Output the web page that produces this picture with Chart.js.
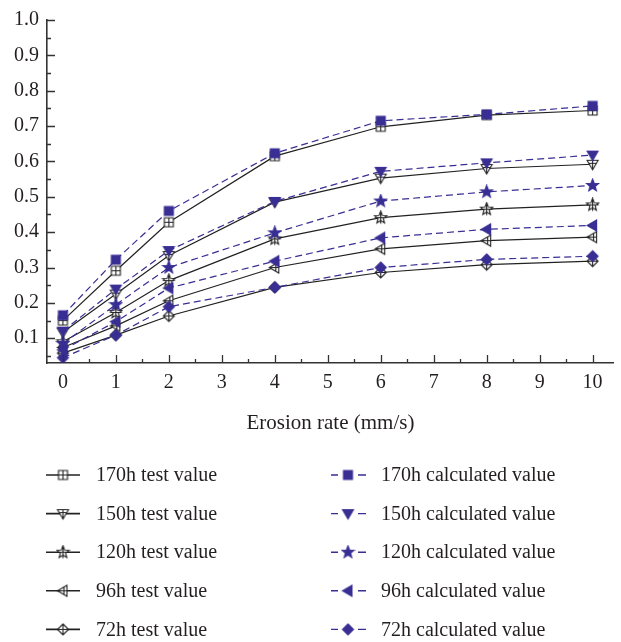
<!DOCTYPE html>
<html>
<head>
<meta charset="utf-8">
<script src="https://cdn.jsdelivr.net/npm/chart.js@4"></script>
<style>
  html, body { margin: 0; padding: 0; background: #fff; }
  #wrap { width: 621px; height: 642px; }
</style>
</head>
<body>
<div id="wrap"><canvas id="erosionChart" width="621" height="642"></canvas></div>
<script>
const erosionRate = [0, 1, 2, 4, 6, 8, 10];
const xTicks = [0, 1, 2, 3, 4, 5, 6, 7, 8, 9, 10];
const yTicks = [0.1, 0.2, 0.3, 0.4, 0.5, 0.6, 0.7, 0.8, 0.9, 1.0];

const test170 = [0.150, 0.291, 0.428, 0.615, 0.698, 0.731, 0.744];
const calc170 = [0.165, 0.322, 0.460, 0.623, 0.715, 0.733, 0.757];
const test150 = [0.117, 0.225, 0.334, 0.485, 0.553, 0.580, 0.592];
const calc150 = [0.120, 0.239, 0.348, 0.487, 0.572, 0.596, 0.618];
const test120 = [0.090, 0.173, 0.263, 0.381, 0.441, 0.465, 0.477];
const calc120 = [0.085, 0.195, 0.300, 0.398, 0.488, 0.514, 0.532];
const test96 = [0.074, 0.135, 0.206, 0.300, 0.353, 0.376, 0.386];
const calc96 = [0.067, 0.147, 0.242, 0.318, 0.384, 0.408, 0.419];
const test72 = [0.058, 0.109, 0.163, 0.244, 0.286, 0.308, 0.318];
const calc72 = [0.045, 0.109, 0.189, 0.244, 0.300, 0.323, 0.332];

const BLUE = '#382e93';
const BLACK = '#222222';
const FONT = '"Liberation Serif", "DejaVu Serif", serif';

// little canvases used as point styles
function makeMarker(shape, filled, color) {
    const c = document.createElement('canvas');
    c.width = 15; c.height = 15;
    const g = c.getContext('2d');
    g.translate(7.5, 7.5);
    g.strokeStyle = color;
    g.fillStyle = filled ? color : '#fff';
    g.lineWidth = 1.1;
    g.beginPath();
    if (shape === 'square') {
        g.rect(-4.5, -4.5, 9, 9);
    } else if (shape === 'down') {
        g.moveTo(-5.5, -4); g.lineTo(5.5, -4); g.lineTo(0, 5.5); g.closePath();
    } else if (shape === 'left') {
        g.moveTo(4, -5.5); g.lineTo(4, 5.5); g.lineTo(-5.5, 0); g.closePath();
    } else if (shape === 'diamond') {
        g.moveTo(0, -5.5); g.lineTo(5.5, 0); g.lineTo(0, 5.5); g.lineTo(-5.5, 0); g.closePath();
    } else if (shape === 'star') {
        for (let i = 0; i < 10; i++) {
            const r = i % 2 === 0 ? 6.5 : 2.8;
            const a = -Math.PI / 2 + i * Math.PI / 5;
            if (i === 0) g.moveTo(r * Math.cos(a), r * Math.sin(a));
            else g.lineTo(r * Math.cos(a), r * Math.sin(a));
        }
        g.closePath();
    }
    g.fill();
    g.stroke();
    if (!filled) {
        // cross inside the open test markers
        g.beginPath();
        if (shape === 'square') {
            g.moveTo(-4.5, 0); g.lineTo(4.5, 0); g.moveTo(0, -4.5); g.lineTo(0, 4.5);
        } else if (shape === 'down') {
            g.moveTo(-3.5, -1); g.lineTo(3.5, -1); g.moveTo(0, -4); g.lineTo(0, 5.5);
        } else if (shape === 'left') {
            g.moveTo(-5.5, 0); g.lineTo(4, 0); g.moveTo(1, -3.5); g.lineTo(1, 3.5);
        } else if (shape === 'diamond') {
            g.moveTo(-5.5, 0); g.lineTo(5.5, 0); g.moveTo(0, -5.5); g.lineTo(0, 5.5);
        } else if (shape === 'star') {
            g.moveTo(-6, 0); g.lineTo(6, 0); g.moveTo(0, -6.5); g.lineTo(0, 6);
        }
        g.stroke();
    }
    return c;
}

function pts(values) {
    return erosionRate.map((x, i) => ({ x: x, y: values[i] }));
}

function testSet(label, values, shape) {
    return {
        label: label, data: pts(values), order: 1,
        borderColor: BLACK, backgroundColor: BLACK, borderWidth: 1.2,
        pointStyle: makeMarker(shape, false, BLACK), pointRadius: 6, pointHoverRadius: 6,
        tension: 0, kind: 'test'
    };
}

function calcSet(label, values, shape) {
    return {
        label: label, data: pts(values), order: 0,
        borderColor: BLUE, backgroundColor: BLUE, borderWidth: 1.2, borderDash: [7, 4],
        pointStyle: makeMarker(shape, true, BLUE), pointRadius: 6, pointHoverRadius: 6,
        tension: 0, kind: 'calc'
    };
}

const datasets = [
    testSet('170h test value', test170, 'square'),
    testSet('150h test value', test150, 'down'),
    testSet('120h test value', test120, 'star'),
    testSet('96h test value', test96, 'left'),
    testSet('72h test value', test72, 'diamond'),
    calcSet('170h calculated value', calc170, 'square'),
    calcSet('150h calculated value', calc150, 'down'),
    calcSet('120h calculated value', calc120, 'star'),
    calcSet('96h calculated value', calc96, 'left'),
    calcSet('72h calculated value', calc72, 'diamond')
];

// ticks pointing into the plot, as in the original figure
const innerTicks = {
    id: 'innerTicks',
    afterDatasetsDraw(chart) {
        const g = chart.ctx;
        const xs = chart.scales.x, ys = chart.scales.y;
        const area = chart.chartArea;
        g.save();
        g.strokeStyle = '#333';
        g.lineWidth = 1.3;
        g.beginPath();
        for (let v = 0; v <= 10.001; v += 0.5) {
            const px = Math.round(xs.getPixelForValue(v)) + 0.5;
            const len = Math.abs(v - Math.round(v)) < 0.01 ? 8 : 4;
            g.moveTo(px, area.bottom); g.lineTo(px, area.bottom - len);
        }
        for (let v = 0.05; v <= 1.001; v += 0.05) {
            const py = Math.round(ys.getPixelForValue(v)) + 0.5;
            const major = Math.abs(v * 10 - Math.round(v * 10)) < 0.01;
            g.moveTo(area.left, py); g.lineTo(area.left + (major ? 8 : 4), py);
        }
        g.stroke();
        g.restore();
    }
};

// two-column legend under the axis title
const twoColLegend = {
    id: 'twoColLegend',
    afterDraw(chart) {
        const g = chart.ctx;
        g.save();
        g.font = '20px ' + FONT;
        g.fillStyle = '#231f20';
        g.textBaseline = 'middle';
        const sets = chart.data.datasets;
        const tests = sets.filter(d => d.kind === 'test');
        const calcs = sets.filter(d => d.kind === 'calc');
        const top = 475, step = 38.6;
        tests.forEach((d, i) => {
            const y = top + i * step;
            g.strokeStyle = d.borderColor; g.lineWidth = 1.6; g.setLineDash([]);
            g.beginPath(); g.moveTo(46, y); g.lineTo(80, y); g.stroke();
            g.drawImage(d.pointStyle, 63 - 7.5, y - 7.5);
            g.fillText(d.label, 96, y + 1);
        });
        calcs.forEach((d, i) => {
            const y = top + i * step;
            g.strokeStyle = d.borderColor; g.lineWidth = 1.4; g.setLineDash([]);
            g.beginPath(); g.moveTo(331, y); g.lineTo(338, y); g.moveTo(358, y); g.lineTo(366, y); g.stroke();
            g.drawImage(d.pointStyle, 348 - 7.5, y - 7.5);
            g.fillText(d.label, 381, y + 1);
        });
        g.restore();
    }
};

new Chart(document.getElementById('erosionChart').getContext('2d'), {
    type: 'line',
    data: { datasets: datasets },
    plugins: [innerTicks, twoColLegend],
    options: {
        responsive: false,
        animation: false,
        events: [],
        layout: { padding: { top: 20, right: 0, left: 0, bottom: 204 } },
        plugins: { legend: { display: false }, tooltip: { enabled: false } },
        scales: {
            x: {
                type: 'linear', min: -0.3, max: 10.4,
                afterBuildTicks: s => { s.ticks = xTicks.map(v => ({ value: v })); },
                afterFit: s => { s.height = 75; },
                grid: { display: false, drawTicks: false },
                border: { display: true, color: '#333', width: 1.6 },
                ticks: { color: '#231f20', font: { family: FONT, size: 20 }, padding: 8, maxRotation: 0 },
                title: { display: true, text: 'Erosion rate (mm/s)', color: '#231f20', font: { family: FONT, size: 21 }, padding: { top: 10, bottom: 2 } }
            },
            y: {
                type: 'linear', min: 0.03, max: 1.0,
                afterBuildTicks: s => { s.ticks = yTicks.map(v => ({ value: v })); },
                afterFit: s => { s.width = 47; },
                grid: { display: false, drawTicks: false },
                border: { display: true, color: '#333', width: 1.6 },
                ticks: { color: '#231f20', font: { family: FONT, size: 20 }, padding: 8, callback: v => v.toFixed(1) }
            }
        }
    }
});
</script>
</body>
</html>
